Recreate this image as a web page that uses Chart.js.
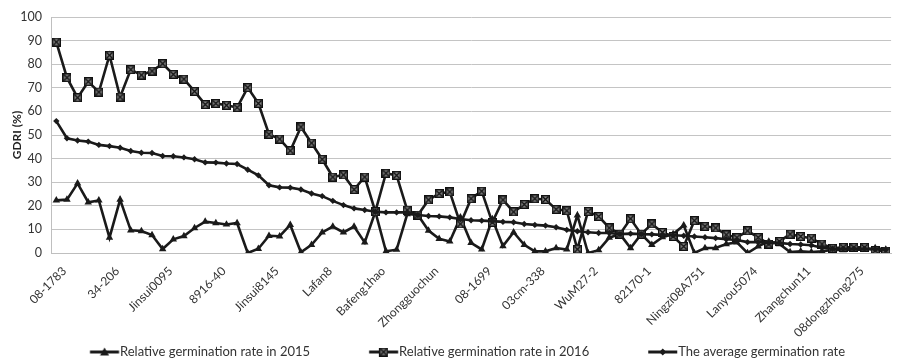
<!DOCTYPE html>
<html>
<head>
<meta charset="utf-8">
<script src="https://cdn.jsdelivr.net/npm/chart.js@4"></script>
<style>
    body { margin: 0; background: #fff; }
</style>
</head>
<body>
<canvas id="myChart" width="907" height="361"></canvas>
<script>

// shown variety names, one every 5 categories
const varieties = [
    '08-1783', '34-206', 'Jinsui0095', '8916-40', 'Jinsui8145', 'Lafan8',
    'Bafeng1hao', 'Zhongguochun', '08-1699', '03cm-338', 'WuM27-2', '82170-1',
    'Ningzi08A751', 'Lanyou5074', 'Zhangchun11', '08dongzhong275',
];

const rate2015 = [
    22.3, 22.6, 29.5, 21.5, 22.3, 6.5, 22.6, 9.6, 9.3, 7.6,
    1.7, 5.8, 7.2, 10.6, 13.3, 12.7, 12.1, 12.7, 0, 1.8,
    7.3, 7.1, 11.9, 0.3, 3.5, 8.7, 11.2, 8.7, 11.2, 4.5,
    17.5, 0.7, 1.4, 16.5, 16.1, 9.5, 6, 4.9, 15.1, 4.3,
    1.5, 14.4, 2.9, 8.8, 3.5, 0.7, 0.7, 2.1, 1.5, 16,
    0, 1.2, 6.5, 8, 2.1, 8, 3.5, 6.7, 8, 11.7,
    0, 2.1, 2.1, 3.8, 4.5, 0, 2.8, 4.9, 3.8, 0.4,
    0.7, 0.4, 0.7, 1.4, 1.2, 1.5, 1.4, 2.1, 1.5,
];

const rate2016 = [
    89.4, 74.3, 65.8, 72.6, 68.2, 83.8, 66.1, 77.7, 75.4, 77.1,
    80.2, 75.7, 73.7, 68.5, 62.9, 63.4, 62.6, 61.6, 70.1, 63.4,
    50.3, 48.3, 43.3, 53.4, 46.6, 39.7, 32.2, 33.1, 26.9, 32.2,
    17.5, 33.8, 32.9, 18.2, 16.1, 22.5, 25.2, 25.9, 12.3, 23,
    26.2, 13, 22.5, 17.4, 20.6, 23, 22.7, 18.5, 17.9, 1.6,
    17.6, 15.5, 10.6, 8, 14.5, 8, 12.3, 8.7, 7, 2.8,
    13.7, 11.3, 10.6, 7.7, 6.5, 9.4, 6.6, 3.8, 4.9, 8,
    7, 6.3, 3.8, 2, 2.4, 2.4, 2.4, 1, 0.8,
];

const rateAverage = [
    55.9, 48.6, 47.7, 47.2, 45.8, 45.3, 44.6, 43.2, 42.5, 42.4,
    41.1, 41.0, 40.5, 39.7, 38.4, 38.3, 37.9, 37.7, 35.3, 32.9,
    28.7, 27.8, 27.7, 26.9, 25.2, 24.1, 22.1, 20.3, 18.9, 18.2,
    17.5, 17.2, 17.2, 17.2, 16.1, 15.7, 15.5, 15.1, 14.4, 13.9,
    13.7, 13.5, 13.2, 13, 12.3, 11.9, 11.6, 10.9, 9.8, 9.2,
    8.8, 8.5, 8.5, 8, 8.2, 8, 7.9, 7.7, 7.5, 7.3,
    7, 6.7, 6.3, 5.8, 5.5, 4.6, 4.6, 4.3, 4.3, 3.8,
    3.6, 3.3, 2.2, 1.8, 1.8, 1.8, 1.8, 1.6, 1.4,
];

const yTicks = [0, 10, 20, 30, 40, 50, 60, 70, 80, 90, 100];

const labels = [];
for (let i = 0; i < rate2016.length; i++) {
    labels.push(i % 5 === 0 ? varieties[i / 5] : '');
}

const lineColor = '#1a1a1a';
const legendFont = 13;
const legendBox = 74.5;

// grey square with a cross, used for the 2016 series
function boxCross(size) {
    const c = document.createElement('canvas');
    c.width = size;
    c.height = size;
    const g = c.getContext('2d');
    g.fillStyle = '#8a8a8a';
    g.fillRect(0, 0, size, size);
    g.strokeStyle = '#111';
    g.lineWidth = 1.4;
    g.strokeRect(0.7, 0.7, size - 1.4, size - 1.4);
    g.beginPath();
    g.moveTo(1.5, 1.5);
    g.lineTo(size - 1.5, size - 1.5);
    g.moveTo(size - 1.5, 1.5);
    g.lineTo(1.5, size - 1.5);
    g.stroke();
    return c;
}

// legend sample: a short line with the marker, sitting right against the text
function legendIcon(kind) {
    const len = 29;
    const w = Math.round(legendBox + 12);
    const end = w / 2 + legendBox / 2 + legendFont / 2 - 1;
    const c = document.createElement('canvas');
    c.width = w;
    c.height = 12;
    const g = c.getContext('2d');
    g.strokeStyle = lineColor;
    g.fillStyle = lineColor;
    g.lineWidth = 3;
    g.beginPath();
    g.moveTo(end - len, 6);
    g.lineTo(end, 6);
    g.stroke();
    const cx = end - len / 2;
    if (kind === 'triangle') {
        g.beginPath();
        g.moveTo(cx, 1.5);
        g.lineTo(cx + 4.5, 9.5);
        g.lineTo(cx - 4.5, 9.5);
        g.closePath();
        g.fill();
    } else if (kind === 'box') {
        g.drawImage(boxCross(9), cx - 4.5, 1.5);
    } else {
        g.beginPath();
        g.moveTo(cx, 2.5);
        g.lineTo(cx + 3.5, 6);
        g.lineTo(cx, 9.5);
        g.lineTo(cx - 3.5, 6);
        g.closePath();
        g.fill();
    }
    return c;
}

const legendIcons = [legendIcon('triangle'), legendIcon('box'), legendIcon('diamond')];

Chart.defaults.font.family = 'Lato, "Open Sans", sans-serif';
Chart.defaults.color = '#404040';

const data = {
    labels: labels,
    datasets: [{
        label: 'Relative germination rate in 2015',
        data: rate2015,
        borderColor: lineColor,
        borderWidth: 2.6,
        backgroundColor: lineColor,
        pointStyle: 'triangle',
        pointRadius: 4.3,
        pointBorderWidth: 0,
        order: 2,
    },
    {
        label: 'Relative germination rate in 2016',
        data: rate2016,
        borderColor: lineColor,
        borderWidth: 2.6,
        backgroundColor: '#8a8a8a',
        pointStyle: boxCross(9),
        order: 1,
    },
    {
        label: 'The average germination rate',
        data: rateAverage,
        borderColor: lineColor,
        borderWidth: 2.6,
        backgroundColor: lineColor,
        pointStyle: 'rectRot',
        pointRadius: 3.2,
        pointBorderWidth: 0,
        order: 0,
    }]
};

const config = {
    type: 'line',
    data: data,
    options: {
        responsive: false,
        animation: false,
        layout: {
            // left pulled out so the centred legend row starts where the original does
            padding: { top: 17, right: 2, left: -21, bottom: -7.5 },
        },
        plugins: {
            tooltip: { enabled: false },
            legend: {
                position: 'bottom',
                labels: {
                    usePointStyle: true,
                    pointStyleWidth: legendBox,
                    padding: 8,
                    color: '#333',
                    font: { size: legendFont },
                    sort: function (a, b) {
                        return a.datasetIndex - b.datasetIndex;
                    },
                    generateLabels: function (chart) {
                        const items = Chart.defaults.plugins.legend.labels.generateLabels(chart);
                        items.forEach(function (item) {
                            item.pointStyle = legendIcons[item.datasetIndex];
                        });
                        return items;
                    },
                },
            },
        },
        scales: {
            x: {
                offset: true,
                grid: {
                    display: false,
                    drawTicks: false,
                },
                border: {
                    display: true,
                    color: '#bfbfbf',
                },
                ticks: {
                    autoSkip: false,
                    minRotation: 45,
                    maxRotation: 45,
                    padding: 11,
                    labelOffset: 8,
                    color: '#333',
                    font: { size: 12 },
                },
                afterFit: function (scale) {
                    scale.height = 84.5;
                },
            },
            y: {
                min: 0,
                max: 100,
                afterBuildTicks: function (scale) {
                    scale.ticks = yTicks.map(function (v) { return { value: v }; });
                },
                grid: {
                    color: '#c4c4c4',
                    lineWidth: 1,
                    drawTicks: false,
                },
                border: {
                    display: true,
                    color: '#bfbfbf',
                },
                ticks: {
                    padding: 9,
                    color: '#333',
                    font: { size: 12.5 },
                },
                title: {
                    display: true,
                    text: 'GDRI (%)',
                    color: '#222',
                    padding: { top: 31, bottom: 4 },
                    font: { size: 12, weight: 'bold' },
                },
                afterFit: function (scale) {
                    scale.width = 72;
                },
            },
        }
    }
};

const myChart = new Chart(
    document.getElementById('myChart'),
    config
);
</script>
</body>
</html>
